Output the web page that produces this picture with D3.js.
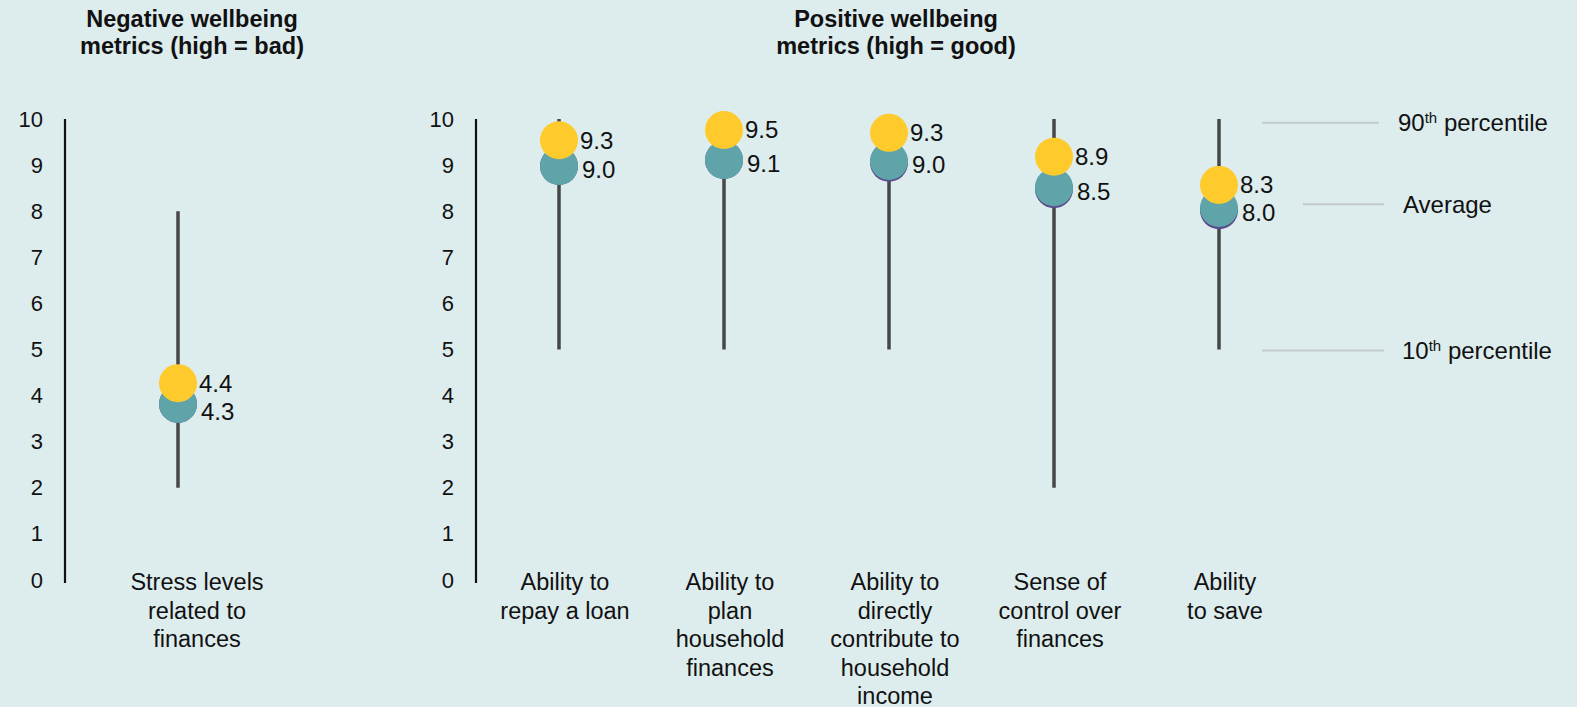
<!DOCTYPE html>
<html>
<head>
<meta charset="utf-8">
<script src="https://cdn.jsdelivr.net/npm/d3@7"></script>
<style>
  html, body { margin: 0; padding: 0; background: #ddeced; }
  svg { display: block; font-family: "Liberation Sans", Arial, Helvetica, sans-serif; }
</style>
</head>
<body>
<div id="visual"></div>
<script>
// data
const negCategories = [["Stress levels", "related to", "finances"]];
const posCategories = [
  ["Ability to", "repay a loan"],
  ["Ability to", "plan", "household", "finances"],
  ["Ability to", "directly", "contribute to", "household", "income"],
  ["Sense of", "control over", "finances"],
  ["Ability", "to save"]
];
// index 0 = negative panel, 1..5 = positive panel
const p10 = [2, 5, 5, 5, 2, 5];
const p90 = [8, 10, 10, 10, 10, 10];
const purpleValues = [3.82, 8.98, 9.11, 9.05, 8.48, 8.02];
const tealValues = [3.82, 8.98, 9.11, 9.09, 8.52, 8.07];
const yellowValues = [4.27, 9.54, 9.76, 9.70, 9.18, 8.57];
const tealLabels = ["4.3", "9.0", "9.1", "9.0", "8.5", "8.0"];
const yellowLabels = ["4.4", "9.3", "9.5", "9.3", "8.9", "8.3"];
const yTicks = [0, 1, 2, 3, 4, 5, 6, 7, 8, 9, 10];
const legendValues = [9.92, 8.15, 4.98];
const legendLabels = [["90", "th", " percentile"], ["Average", "", ""], ["10", "th", " percentile"]];

//constants
const width = 1577, height = 707;
const colors = {yellow: "#ffca2c", teal: "#5fa4a9", purple: "#5a4b8c", stem: "#474747"};
const r = 19;

const svg = d3.select("#visual")
  .append("svg")
  .attr("width", width)
  .attr("height", height);

svg.append("rect").attr("width", width).attr("height", height).attr("fill", "#ddeced");

const y = d3.scaleLinear().domain([0, 10]).range([580, 119]);

const panels = [
  {title: ["Negative wellbeing", "metrics (high = bad)"], titleX: 192, axisX: 65,
   cats: negCategories, start: 0, range: [66, 290], labelShift: 19},
  {title: ["Positive wellbeing", "metrics (high = good)"], titleX: 896, axisX: 476,
   cats: posCategories, start: 1, range: [476.5, 1301.5], labelShift: 6}
];

panels.forEach(p => {
  // title
  const t = svg.append("text")
    .attr("text-anchor", "middle")
    .attr("font-weight", "bold")
    .attr("font-size", 23.5)
    .attr("fill", "#111");
  p.title.forEach((line, i) => {
    t.append("tspan").attr("x", p.titleX).attr("y", 27 + i * 27).text(line);
  });

  // y axis
  const axis = svg.append("g")
    .attr("transform", "translate(" + p.axisX + ",0)")
    .call(d3.axisLeft(y).tickValues(yTicks).tickSize(0).tickPadding(22).tickFormat(d3.format("d")));
  axis.select(".domain").attr("stroke", "#111").attr("stroke-width", 2.2)
    .attr("d", "M0," + y(10) + "V" + (y(0) + 3));
  axis.selectAll("text").attr("font-size", 22).attr("fill", "#111")
    .attr("font-family", "Liberation Sans, Arial, sans-serif");

  const x = d3.scaleBand()
    .domain(p.cats.map((d, i) => i))
    .range(p.range);

  const rows = p.cats.map((c, i) => {
    const k = p.start + i;
    return {lines: c, cx: x(i) + x.bandwidth() / 2, lo: p10[k], hi: p90[k],
      purple: purpleValues[k], teal: tealValues[k], yellow: yellowValues[k],
      tl: tealLabels[k], yl: yellowLabels[k]};
  });

  const g = svg.append("g");

  // percentile stems
  g.selectAll("line.stem")
    .data(rows)
    .enter()
    .append("line")
    .attr("class", "stem")
    .attr("x1", d => d.cx).attr("x2", d => d.cx)
    .attr("y1", d => y(d.hi)).attr("y2", d => y(d.lo))
    .attr("stroke", colors.stem)
    .attr("stroke-width", 3.5);

  ["purple", "teal", "yellow"].forEach(key => {
    g.selectAll("circle." + key)
      .data(rows)
      .enter()
      .append("circle")
      .attr("class", key)
      .attr("cx", d => d.cx)
      .attr("cy", d => y(d[key]))
      .attr("r", r)
      .attr("fill", colors[key]);
  });

  // value labels
  rows.forEach(d => {
    const yy = y(d.yellow);
    const ty = Math.max(y(d.teal) + 4, yy + 28);
    g.append("text")
      .attr("x", d.cx + r + 2).attr("y", yy)
      .attr("dy", "0.35em").attr("font-size", 24).attr("fill", "#111")
      .text(d.yl);
    g.append("text")
      .attr("x", d.cx + r + 4).attr("y", ty)
      .attr("dy", "0.35em").attr("font-size", 24).attr("fill", "#111")
      .text(d.tl);
  });

  // category labels
  rows.forEach(d => {
    const lab = g.append("text")
      .attr("text-anchor", "middle")
      .attr("font-size", 23.5)
      .attr("fill", "#111");
    d.lines.forEach((line, i) => {
      lab.append("tspan")
        .attr("x", d.cx + p.labelShift)
        .attr("y", 582 + i * 28.5)
        .attr("dy", "0.35em")
        .text(line);
    });
  });
});

// legend next to the last stem
const legendX = [[1262, 1379, 1398], [1303, 1384, 1403], [1262, 1384, 1402]];
legendValues.forEach((v, i) => {
  svg.append("line")
    .attr("x1", legendX[i][0]).attr("x2", legendX[i][1])
    .attr("y1", y(v)).attr("y2", y(v))
    .attr("stroke", "#c3caca").attr("stroke-width", 2);
  const t = svg.append("text")
    .attr("x", legendX[i][2]).attr("y", y(v))
    .attr("dy", "0.35em")
    .attr("font-size", 24).attr("fill", "#111");
  t.append("tspan").text(legendLabels[i][0]);
  if (legendLabels[i][1]) {
    t.append("tspan").attr("font-size", 15).attr("dy", "-0.55em").text(legendLabels[i][1]);
    t.append("tspan").attr("dy", "0.35em").text(legendLabels[i][2]);
  }
});
</script>
</body>
</html>
